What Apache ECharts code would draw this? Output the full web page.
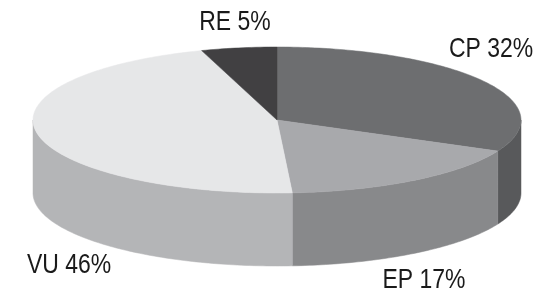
<!DOCTYPE html>
<html>
<head>
<meta charset="utf-8">
<script src="https://cdn.jsdelivr.net/npm/echarts@6/dist/echarts.min.js"></script>
<style>
html, body { margin: 0; padding: 0; background: #fff; }
#main { width: 541px; height: 295px; }
</style>
</head>
<body>
<div id="main"></div>
<script>
// data
const names = ['CP', 'EP', 'VU', 'RE'];
const shares = [32, 17, 46, 5];

// style
const topColors = ['#6d6e70', '#a8a9ac', '#e6e7e8', '#414042'];
const sideColors = ['#58595b', '#88898b', '#b4b5b7', '#2e2e30'];
const labelAt = [[491, 49], [424, 280], [69, 265], [235, 22]];
const pie = { cx: 277, cy: 120, rx: 244, ry: 73, depth: 73 };

// slice angles, clockwise from 12 o'clock
const total = shares.reduce((a, b) => a + b, 0);
const angles = [];
let acc = 0;
shares.forEach(v => {
    const a0 = acc / total * Math.PI * 2;
    acc += v;
    angles.push([a0, acc / total * Math.PI * 2]);
});

function pt(t, dy) {
    return [pie.cx + pie.rx * Math.sin(t), pie.cy - pie.ry * Math.cos(t) + (dy || 0)];
}
function arc(a, b, dy) {
    const n = Math.max(2, Math.ceil((b - a) / (Math.PI / 180)));
    const out = [];
    for (let i = 0; i <= n; i++) out.push(pt(a + (b - a) * i / n, dy));
    return out;
}

const myChart = echarts.init(document.getElementById('main'));

const option = {
    animation: false,
    series: [{
        // outer wall, only the front half shows
        type: 'custom',
        coordinateSystem: 'none',
        z: 1,
        data: shares,
        renderItem: function (params) {
            const i = params.dataIndex;
            const s = Math.max(angles[i][0], Math.PI / 2);
            const e = Math.min(angles[i][1], Math.PI * 1.5);
            if (e <= s) return { type: 'group', children: [] };
            const pts = arc(s, e, 0).concat(arc(s, e, pie.depth).reverse());
            return {
                type: 'polygon',
                shape: { points: pts },
                style: { fill: sideColors[i], stroke: sideColors[i], lineWidth: 0.5 }
            };
        }
    }, {
        // top face + labels
        type: 'custom',
        coordinateSystem: 'none',
        z: 2,
        data: shares,
        renderItem: function (params) {
            const i = params.dataIndex;
            const pts = [[pie.cx, pie.cy]].concat(arc(angles[i][0], angles[i][1], 0));
            return {
                type: 'group',
                children: [{
                    type: 'polygon',
                    shape: { points: pts },
                    style: { fill: topColors[i], stroke: topColors[i], lineWidth: 0.5 }
                }, {
                    // condensed look: squeeze a regular sans horizontally
                    type: 'text',
                    x: labelAt[i][0],
                    y: labelAt[i][1],
                    scaleX: 0.82,
                    style: {
                        text: names[i] + ' ' + shares[i] + '%',
                        fill: '#1a1a1a',
                        font: '28px "Liberation Sans", Arial, sans-serif',
                        align: 'center',
                        verticalAlign: 'middle'
                    }
                }]
            };
        }
    }]
};

myChart.setOption(option);
</script>
</body>
</html>
